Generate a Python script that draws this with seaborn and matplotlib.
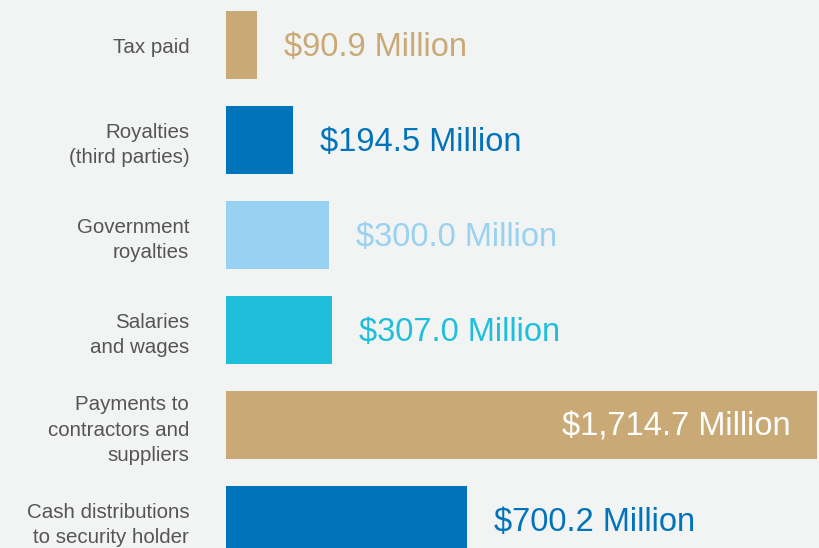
import pandas as pd
import matplotlib
matplotlib.use("Agg")
import matplotlib.pyplot as plt
import seaborn as sns

# data
categories = [
    "Tax paid",
    "Royalties\n(third parties)",
    "Government\nroyalties",
    "Salaries\nand wages",
    "Payments to\ncontractors and\nsuppliers",
    "Cash distributions\nto security holder",
]
values = [90.9, 194.5, 300.0, 307.0, 1714.7, 700.2]
value_labels = [
    "$90.9 Million",
    "$194.5 Million",
    "$300.0 Million",
    "$307.0 Million",
    "$1,714.7 Million",
    "$700.2 Million",
]
colors = ["#c9a975", "#0074bb", "#99d1f2", "#1fbfdc", "#c9a975", "#0074bb"]

df = pd.DataFrame({"category": categories, "value": values})

bg = "#f2f3f3"
sns.set_style("white")
plt.rcParams["font.family"] = ["Liberation Sans", "DejaVu Sans"]

fig = plt.figure(figsize=(8.2, 5.48), dpi=100, facecolor=bg)
ax = fig.add_axes([226 / 820, 0, 1 - 226 / 820, 1])
ax.set_facecolor(bg)

sns.barplot(data=df, y="category", x="value", hue="category", palette=colors,
            orient="h", width=0.716, legend=False, ax=ax, saturation=1,
            linewidth=0, edgecolor="none")

ax.set_xlim(0, 1723.3)
ax.set_ylim(5.295, -0.474)

# value labels
for i, (v, lab, c) in enumerate(zip(values, value_labels, colors)):
    if v > 1000:
        ax.annotate(lab, (v, i), xytext=(-19, -1.5), textcoords="offset points",
                    ha="right", va="center", color="white", fontsize=23.5)
    else:
        ax.annotate(lab, (v, i), xytext=(19.5, -1.5), textcoords="offset points",
                    ha="left", va="center", color=c, fontsize=23.5)

ax.set_xlabel("")
ax.set_ylabel("")
ax.set_xticks([])
ax.tick_params(axis="y", length=0, pad=26.5, labelsize=14.8, labelcolor="#555555")
for t in ax.get_yticklabels():
    t.set_linespacing(1.42)
sns.despine(ax=ax, left=True, bottom=True)

plt.savefig("out.png", dpi=100, facecolor=bg)
